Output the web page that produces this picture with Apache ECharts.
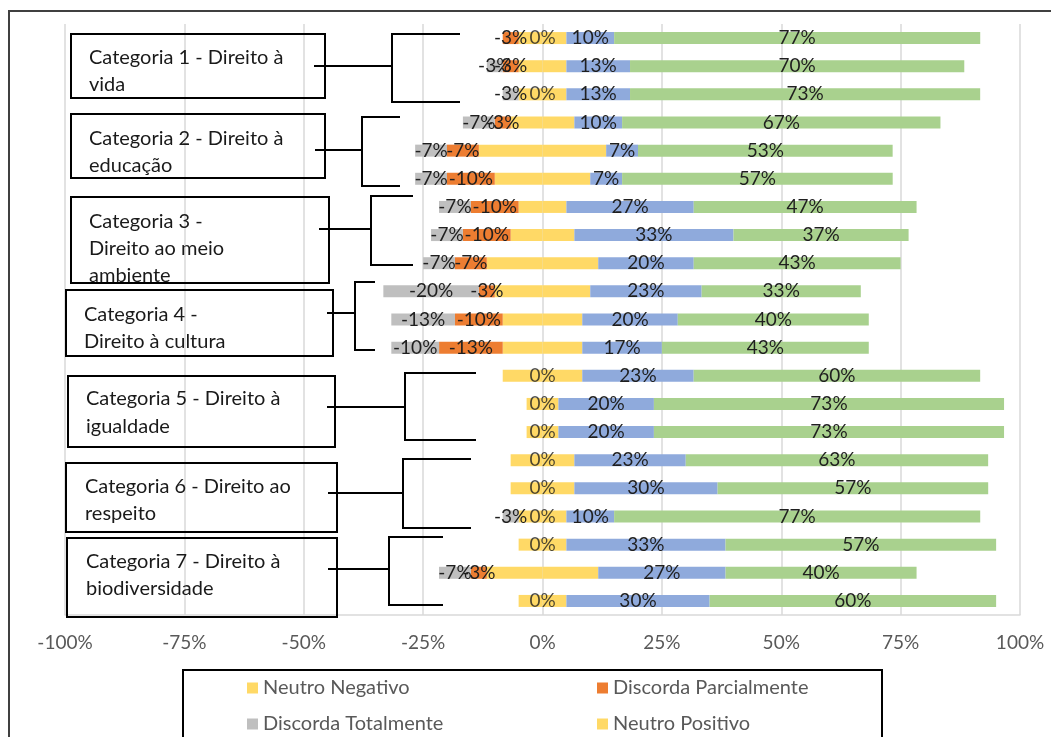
<!DOCTYPE html>
<html><head><meta charset="utf-8">
<script src="https://cdn.jsdelivr.net/npm/echarts@6/dist/echarts.min.js"></script>
<style>html,body{margin:0;padding:0;background:#fff}#c{width:1051px;height:737px}</style>
</head><body><div id="c"></div>
<script>
// ---- data (percent of respondents) ----
const rows = ['1.1','1.2','1.3','2.1','2.2','2.3','3.1','3.2','3.3','4.1','4.2','4.3',
              '5.1','5.2','5.3','6.1','6.2','6.3','7.1','7.2','7.3'];
const discordaTotalmente   = [0,3.33,3.33,6.67,6.67,6.67,6.67,6.67,6.67,20,13.33,10,0,0,0,0,0,3.33,0,6.67,0];
const discordaParcialmente = [3.33,3.33,0,3.33,6.67,10,10,10,6.67,3.33,10,13.33,0,0,0,0,0,0,0,3.33,0];
const neutroNegativo       = [5,5,5,6.67,13.33,10,5,6.67,11.67,10,8.33,8.33,8.33,3.33,3.33,6.67,6.67,5,5,11.67,5];
const neutroPositivo       = [5,5,5,6.67,13.33,10,5,6.67,11.67,10,8.33,8.33,8.33,3.33,3.33,6.67,6.67,5,5,11.67,5];
const concordaParcialmente = [10,13.33,13.33,10,6.67,6.67,26.67,33.33,20,23.33,20,16.67,23.33,20,20,23.33,30,10,33.33,26.67,30];
const concordaTotalmente   = [76.67,70,73.33,66.67,53.33,56.67,46.67,36.67,43.33,33.33,40,43.33,60,73.33,73.33,63.33,56.67,76.67,56.67,40,60];
const xTicks = [-100,-75,-50,-25,0,25,50,75,100];
const groupLabels = [
  ['Categoria 1 - Direito à','vida'],
  ['Categoria 2 - Direito à','educação'],
  ['Categoria 3 -','Direito ao meio','ambiente'],
  ['Categoria 4 -','Direito à cultura'],
  ['Categoria 5 - Direito à','igualdade'],
  ['Categoria 6 - Direito ao','respeito'],
  ['Categoria 7 - Direito à','biodiversidade']
];

// ---- annotation layout (boxes & brackets) ----
const boxLayout = [
  {r:[71,34,325,98],  tx:89, ty:[58,85]},
  {r:[71,114,325,178],tx:89, ty:[139,166]},
  {r:[71,197,329,283],tx:89, ty:[222,249,276]},
  {r:[66,290,333,356],tx:84, ty:[315,342]},
  {r:[68,376,335,447],tx:86, ty:[399,427]},
  {r:[66,463,337,532],tx:85, ty:[487,514]},
  {r:[67,538,337,617],tx:86, ty:[562,589]}
];
const bracketLayout = [
  {c:[314,66,392], b:[460,34,392,102]},
  {c:[315,150,362],b:[400,117,362,186]},
  {c:[319,229,371],b:[413,196,371,265]},
  {c:[327,313,355],b:[375,282,355,350]},
  {c:[327,407,405],b:[476,373,405,440]},
  {c:[328,493,403],b:[471,459,403,528]},
  {c:[328,569,389],b:[443,537,389,605]}
];

const FONT = 'Lato, Carlito, "Open Sans", sans-serif';
const labelStyle = {show:true, position:'inside', color:'#1f1f1f', fontSize:19, fontFamily:FONT};
function pctLabel(p){ const v = Math.round(p.value); return v === 0 ? '' : v + '%'; }

const neg = a => a.map(v => -v);
const base = {type:'bar', stack:'total', barWidth:12, emphasis:{disabled:true}};

const zeroRows = rows.map((r,i) => (discordaTotalmente[i] === 0 || discordaParcialmente[i] === 0) ? [0, r] : null).filter(Boolean);

const series = [
  Object.assign({}, base, {name:'Neutro Negativo', data:neg(neutroNegativo), itemStyle:{color:'#FFD966'}, label:{show:false}}),
  Object.assign({}, base, {name:'Discorda Parcialmente', data:neg(discordaParcialmente), itemStyle:{color:'#ED7D31'}, label:Object.assign({formatter:pctLabel}, labelStyle)}),
  Object.assign({}, base, {name:'Discorda Totalmente', data:neg(discordaTotalmente), itemStyle:{color:'#BFBFBF'}, label:Object.assign({formatter:pctLabel}, labelStyle)}),
  Object.assign({}, base, {name:'Neutro Positivo', data:neutroPositivo, itemStyle:{color:'#FFD966'}, label:{show:false}}),
  Object.assign({}, base, {name:'Concorda Parcialmente', data:concordaParcialmente, itemStyle:{color:'#8FAADC'}, label:Object.assign({formatter:pctLabel}, labelStyle)}),
  Object.assign({}, base, {name:'Concorda Totalmente', data:concordaTotalmente, itemStyle:{color:'#A9D18E'}, label:Object.assign({formatter:pctLabel}, labelStyle)}),
  {type:'scatter', name:'zero', data:zeroRows, symbolSize:0, silent:true,
   label:Object.assign({}, labelStyle, {position:'inside', formatter:'0%'})}
];

const graphics = [];
graphics.push({type:'polyline', shape:{points:[[9,737],[9,11],[1051,11]]}, style:{stroke:'#404040', lineWidth:2, fill:null}, z:10});
boxLayout.forEach((b,i) => {
  graphics.push({type:'rect', shape:{x:b.r[0], y:b.r[1], width:b.r[2]-b.r[0], height:b.r[3]-b.r[1]}, style:{stroke:'#000', lineWidth:2, fill:null}, z:10});
  groupLabels[i].forEach((t,j) => {
    graphics.push({type:'text', x:b.tx, y:b.ty[j], style:{text:t, fill:'#1a1a1a', font:'20px ' + FONT, verticalAlign:'middle', align:'left'}, z:9});
  });
});
bracketLayout.forEach(k => {
  graphics.push({type:'polyline', shape:{points:[[k.c[0],k.c[1]],[k.c[2],k.c[1]]]}, style:{stroke:'#000', lineWidth:2, fill:null}, z:10});
  graphics.push({type:'polyline', shape:{points:[[k.b[0],k.b[1]],[k.b[2],k.b[1]],[k.b[2],k.b[3]],[k.b[0],k.b[3]]]}, style:{stroke:'#000', lineWidth:2, fill:null}, z:10});
});
graphics.push({type:'rect', shape:{x:183, y:670, width:699, height:90}, style:{stroke:'#000', lineWidth:2, fill:null}, z:10});

const legendCommon = {orient:'vertical', itemWidth:11, itemHeight:11, icon:'rect', itemGap:16, itemTextGap:6, selectedMode:false,
  height:300, width:320,
  textStyle:{color:'#595959', fontSize:20, fontFamily:FONT, lineHeight:20}, padding:0};

const chart = echarts.init(document.getElementById('c'), null, {renderer:'canvas'});
chart.setOption({
  animation:false,
  backgroundColor:'#fff',
  grid:{left:65, right:31, top:24, bottom:122},
  xAxis:{type:'value', min:xTicks[0], max:xTicks[xTicks.length-1], interval:25,
    axisLabel:{formatter: v => v + '%', color:'#595959', fontSize:19, fontFamily:FONT, margin:18},
    axisLine:{show:true, lineStyle:{color:'#d9d9d9', width:1.5}}, axisTick:{show:false},
    splitLine:{show:true, lineStyle:{color:'#d9d9d9', width:1.5}}},
  yAxis:{type:'category', data:rows, inverse:true, axisLine:{show:false}, axisTick:{show:false}, axisLabel:{show:false}, splitLine:{show:false}},
  legend:[
    Object.assign({}, legendCommon, {left:247, top:678, data:['Neutro Negativo','Discorda Totalmente','Concorda Parcialmente']}),
    Object.assign({}, legendCommon, {left:597, top:678, data:['Discorda Parcialmente','Neutro Positivo','Concorda Totalmente']})
  ],
  series: series,
  graphic: graphics
});
</script></body></html>
